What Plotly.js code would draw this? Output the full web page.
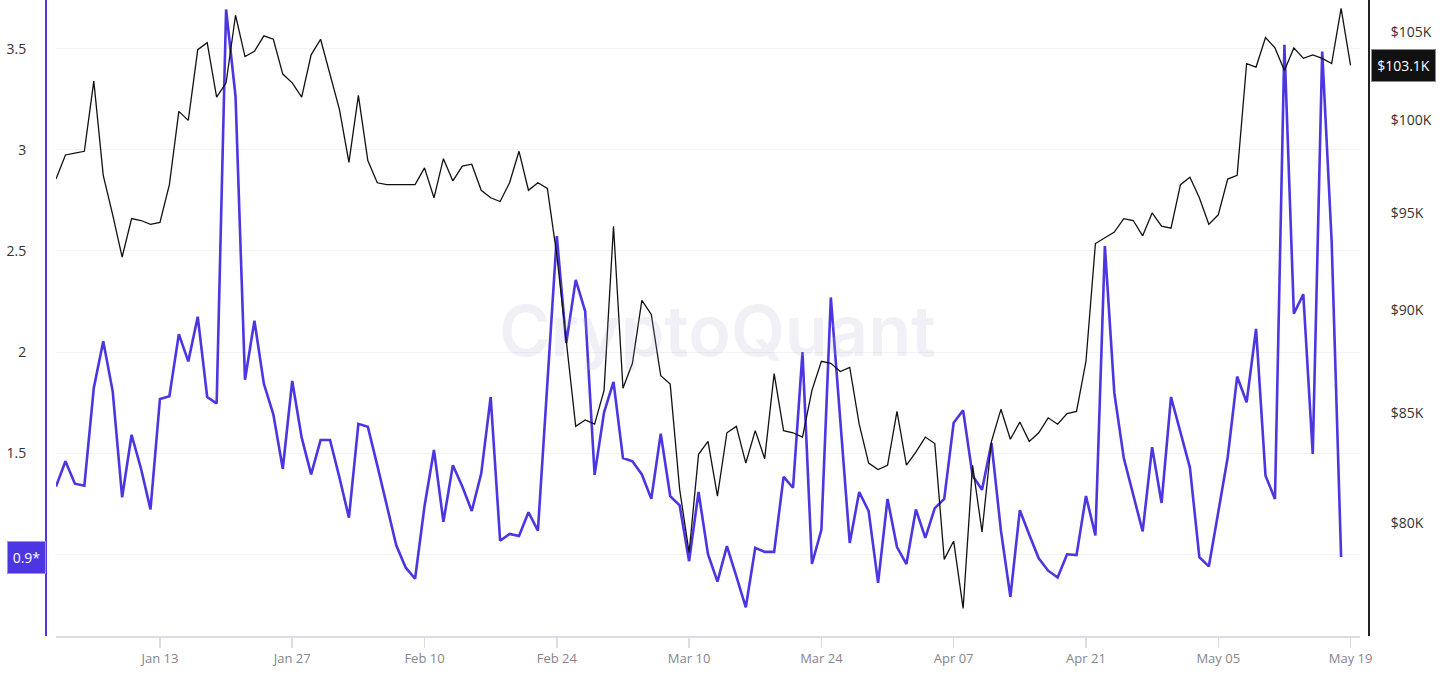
<!DOCTYPE html>
<html>
<head>
<meta charset="utf-8">
<script src="https://cdn.plot.ly/plotly-3.0.1.min.js"></script>
<style>
  html, body { margin: 0; padding: 0; background: #ffffff; }
  #chart { width: 1450px; height: 686px; }
</style>
</head>
<body>
<div id="chart"></div>
<script>
// ---- data (daily, starting 2025-01-02) ----
const startDate = '2025-01-02';

// purple series (left axis), Jan 02 .. May 18
const ratioValues = [
  1.335, 1.460, 1.349, 1.339, 1.823, 2.054, 1.806, 1.282, 1.591, 1.423,
  1.222, 1.768, 1.782, 2.089, 1.954, 2.175, 1.778, 1.746, 3.694, 3.264,
  1.863, 2.155, 1.843, 1.692, 1.423, 1.857, 1.577, 1.395, 1.565, 1.565,
  1.379, 1.181, 1.645, 1.631, 1.440, 1.248, 1.046, 0.935, 0.879, 1.238,
  1.516, 1.161, 1.440, 1.335, 1.214, 1.399, 1.778, 1.067, 1.101, 1.091,
  1.208, 1.117, 1.843, 2.573, 2.044, 2.357, 2.202, 1.393, 1.702, 1.853,
  1.476, 1.460, 1.395, 1.274, 1.597, 1.288, 1.242, 0.966, 1.308, 1.000,
  0.865, 1.040, 0.891, 0.738, 1.032, 1.012, 1.012, 1.383, 1.329, 2.000,
  0.952, 1.121, 2.270, 1.661, 1.056, 1.308, 1.214, 0.859, 1.274, 1.036,
  0.952, 1.222, 1.081, 1.228, 1.274, 1.651, 1.712, 1.389, 1.319, 1.550,
  1.117, 0.790, 1.218, 1.097, 0.980, 0.919, 0.885, 1.000, 0.996, 1.288,
  1.093, 2.524, 1.798, 1.476, 1.294, 1.113, 1.530, 1.254, 1.778, 1.605,
  1.429, 0.986, 0.940, 1.208, 1.480, 1.879, 1.752, 2.115, 1.389, 1.274,
  3.520, 2.190, 2.286, 1.496, 3.486, 2.548, 0.986
];

// black series (right axis, USD), Jan 02 .. May 19
const priceValues = [
  96800, 98100, 98200, 98300, 102200, 97000, 94900, 92700, 94700, 94600,
  94400, 94500, 96500, 100500, 100000, 104000, 104400, 101300, 102100, 106000,
  103600, 103900, 104800, 104600, 102600, 102100, 101300, 103700, 104600, 102500,
  100600, 97700, 101400, 97800, 96600, 96500, 96500, 96500, 96500, 97400,
  95800, 97900, 96700, 97500, 97600, 96200, 95800, 95600, 96600, 98300,
  96200, 96600, 96300, 92800, 88400, 84400, 84700, 84500, 86100, 94300,
  86200, 87400, 90500, 89800, 86800, 86400, 81500, 78700, 83100, 83700,
  81200, 84100, 84400, 82700, 84200, 82900, 86900, 84200, 84100, 83900,
  86100, 87500, 87400, 87000, 87200, 84500, 82700, 82400, 82600, 85100,
  82600, 83200, 83900, 83600, 78400, 79200, 76300, 82600, 79600, 83700,
  85200, 83800, 84600, 83700, 84100, 84800, 84500, 85000, 85100, 87500,
  93400, 93700, 94000, 94700, 94600, 93800, 95000, 94300, 94200, 96500,
  96900, 95800, 94400, 94900, 96800, 97000, 103200, 103000, 104700, 104100,
  102800, 104100, 103500, 103700, 103500, 103200, 106400, 103100
];

const leftTickVals = [1, 1.5, 2, 2.5, 3, 3.5];
const leftTickText = ['', '1.5', '2', '2.5', '3', '3.5'];
const rightTickVals = [80000, 85000, 90000, 95000, 100000, 105000];
const rightTickText = ['$80K', '$85K', '$90K', '$95K', '$100K', '$105K'];
const ratioBadgeText = '0.9*';
const priceBadgeText = '$103.1K';

// ---- build dates ----
function buildDates(n) {
  const out = [];
  const base = new Date(startDate + 'T00:00:00Z');
  for (let i = 0; i < n; i++) {
    const d = new Date(base.getTime() + i * 86400000);
    out.push(d.toISOString().slice(0, 10));
  }
  return out;
}
const ratioDates = buildDates(ratioValues.length);
const priceDates = buildDates(priceValues.length);

const PURPLE = '#4b36e2';
const BLACK = '#111111';
const FONT = 'Open Sans, Noto Sans, sans-serif';

const traces = [
  {
    x: ratioDates, y: ratioValues, type: 'scatter', mode: 'lines',
    line: { color: PURPLE, width: 2.6 }, yaxis: 'y', hoverinfo: 'skip'
  },
  {
    x: priceDates, y: priceValues, type: 'scatter', mode: 'lines',
    line: { color: BLACK, width: 1.3 }, yaxis: 'y2', hoverinfo: 'skip'
  }
];

const paperW = 1450 - 46 - 81;
const layout = {
  width: 1450, height: 686,
  margin: { l: 46, r: 81, t: 0, b: 50, pad: 0 },
  paper_bgcolor: '#ffffff', plot_bgcolor: '#ffffff',
  showlegend: false,
  font: { family: FONT, size: 13, color: '#333' },
  xaxis: {
    type: 'date',
    domain: [10 / paperW, 1314 / paperW],
    range: ['2025-01-02', '2025-05-20'],
    tick0: '2025-01-13', dtick: 14 * 86400000,
    tickformat: '%b %d',
    ticks: 'outside', ticklen: 10, tickcolor: '#dcdce4', tickwidth: 1.5,
    showline: true, linecolor: '#dcdce4', linewidth: 1.5,
    showgrid: false, zeroline: false,
    tickfont: { family: FONT, size: 13, color: '#85858f' }
  },
  yaxis: {
    range: [0.596, 3.741],
    tickvals: leftTickVals, ticktext: leftTickText,
    anchor: 'free', position: 0, side: 'left',
    showline: true, linecolor: PURPLE, linewidth: 2,
    showgrid: true, gridcolor: '#f3f3f6', gridwidth: 1,
    zeroline: false, ticks: '',
    ticklabelstandoff: 16,
    tickfont: { family: FONT, size: 14, color: '#333' }
  },
  yaxis2: {
    type: 'log',
    range: [Math.log10(75140), Math.log10(106900)],
    overlaying: 'y', side: 'right', anchor: 'free', position: 1,
    tickvals: rightTickVals, ticktext: rightTickText,
    showline: true, linecolor: '#222', linewidth: 2,
    showgrid: false, zeroline: false, ticks: '',
    ticklabelstandoff: 18,
    tickfont: { family: FONT, size: 14, color: '#333' }
  },
  annotations: [
    {
      text: 'CryptoQuant', xref: 'paper', yref: 'paper',
      x: (717 - 46) / paperW, y: 1 - 330 / 636, xanchor: 'center', yanchor: 'middle',
      showarrow: false,
      font: { family: 'Inter, sans-serif', size: 70, color: 'rgba(175,170,210,0.18)', weight: 600 }
    },
    {
      text: ratioBadgeText, xref: 'paper', yref: 'y',
      x: (26.5 - 46) / paperW, y: ratioValues[ratioValues.length - 1],
      xanchor: 'center', yanchor: 'middle', showarrow: false,
      bgcolor: PURPLE, bordercolor: '#9d92ee', borderwidth: 1,
      width: 35, height: 29,
      font: { family: FONT, size: 14, color: '#ffffff' }
    },
    {
      text: priceBadgeText, xref: 'paper', yref: 'y2',
      x: (1403.5 - 46) / paperW, y: Math.log10(priceValues[priceValues.length - 1]),
      xanchor: 'center', yanchor: 'middle', showarrow: false,
      bgcolor: '#111111', bordercolor: '#8a8a8a', borderwidth: 1,
      width: 61, height: 29,
      font: { family: FONT, size: 14, color: '#ffffff' }
    }
  ]
};

Plotly.newPlot('chart', traces, layout, { displayModeBar: false, staticPlot: true });
</script>
</body>
</html>
